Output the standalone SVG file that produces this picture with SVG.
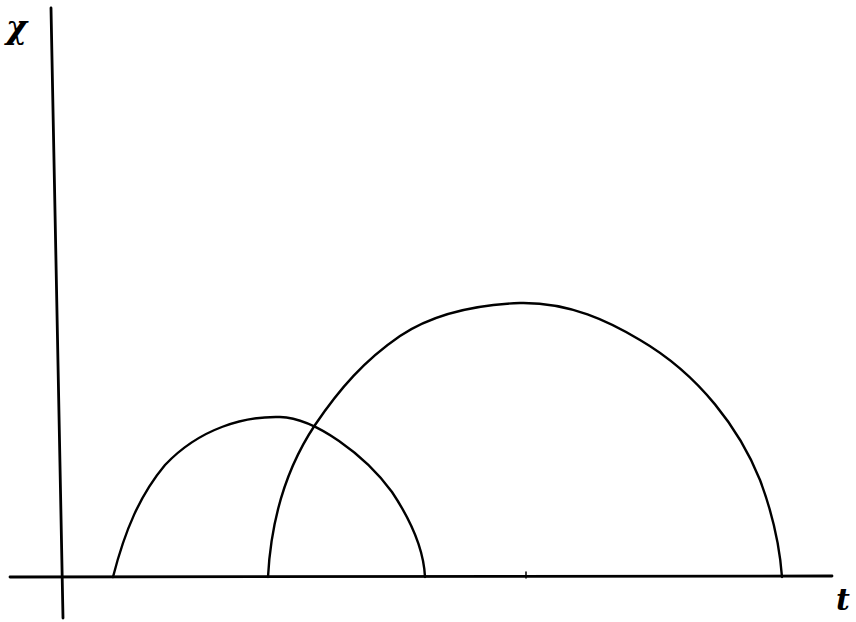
<svg xmlns="http://www.w3.org/2000/svg" width="856" height="622" viewBox="0 0 856 622">
<style>
.ax{stroke:#000;stroke-width:2.8;fill:none;stroke-linecap:round}
.cv{stroke:#000;stroke-width:2.4;fill:none;stroke-linecap:round;stroke-linejoin:round}
.lb{font-family:"DejaVu Serif",serif;font-style:italic;font-weight:bold;fill:#000}
</style>
<rect width="856" height="622" fill="#fff"/>
<g id="axes">
<line class="ax" x1="51" y1="8" x2="63" y2="618"/>
<line class="ax" x1="10" y1="577" x2="832" y2="576"/>
<line class="ax" x1="526" y1="572" x2="526" y2="578" style="stroke-width:1.5"/>
</g>
<g id="labels">
<text class="lb" x="6" y="38" font-size="32">χ</text>
<text class="lb" x="836" y="610" font-size="30">t</text>
</g>
<g id="curves">
<path class="cv" d="M113,577 C125,530 140,495 165,465 C200,428 245,416 280,417 C315,418 365,455 392,492 C414,525 424,555 425,577"/>
<path class="cv" d="M268,577 C271,520 285,470 315,425 C340,388 365,360 400,336 C430,316 470,305 520,303 C570,302 610,322 640,340 C700,375 740,430 760,480 C775,520 780,550 782,577"/>
</g>
</svg>
